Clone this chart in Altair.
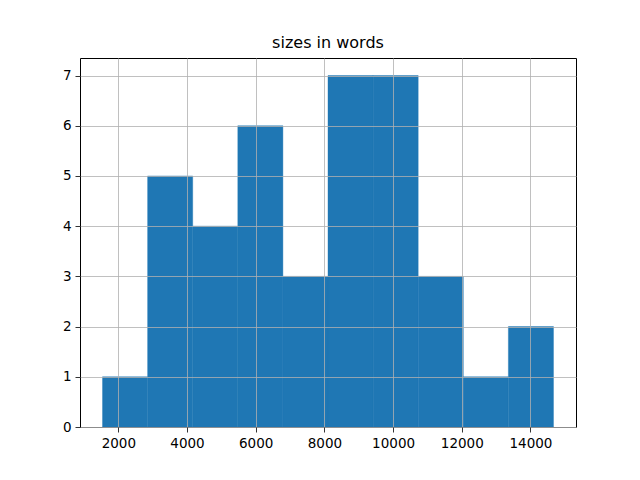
import altair as alt
import pandas as pd

bin_starts = [1540, 2853, 4166, 5479, 6792, 8105, 9418, 10731, 12044, 13357]
bin_ends = [2853, 4166, 5479, 6792, 8105, 9418, 10731, 12044, 13357, 14670]
counts = [1, 5, 4, 6, 3, 7, 7, 3, 1, 2]
x_ticks = [2000, 4000, 6000, 8000, 10000, 12000, 14000]
y_ticks = [0, 1, 2, 3, 4, 5, 6, 7]

df = pd.DataFrame({"start": bin_starts, "end": bin_ends, "count": counts, "base": [0] * len(counts)})

axis_common = dict(
    grid=True, gridColor="#b0b0b0", gridWidth=0.8, gridOpacity=1,
    domain=False, ticks=True, tickColor="black", tickSize=5, tickWidth=0.8,
    labelFont="DejaVu Sans", labelFontSize=13.5, labelColor="black",
    labelPadding=4, title=None, zindex=1, format="d",
)

chart = alt.Chart(df).mark_bar(color="#1f77b4", stroke="#1f77b4", strokeWidth=0.4).encode(
    x=alt.X("start:Q", scale=alt.Scale(domain=[884, 15326], nice=False, zero=False, padding=0),
            axis=alt.Axis(values=x_ticks, labelFlush=False, **axis_common)),
    x2="end:Q",
    y=alt.Y("count:Q", scale=alt.Scale(domain=[0, 7.35], nice=False, padding=0),
            axis=alt.Axis(values=y_ticks, **axis_common)),
    y2="base:Q",
).properties(
    width=496, height=369,
    title=alt.TitleParams("sizes in words", font="DejaVu Sans", fontSize=16,
                          fontWeight="normal", color="black", anchor="middle", offset=7),
    autosize=alt.AutoSizeParams(type="none"),
    padding={"left": 72, "top": 50, "right": 56, "bottom": 45},
).configure_view(stroke="black", strokeWidth=1)

chart.save("out.html", embed_options={"renderer": "svg", "actions": False})
